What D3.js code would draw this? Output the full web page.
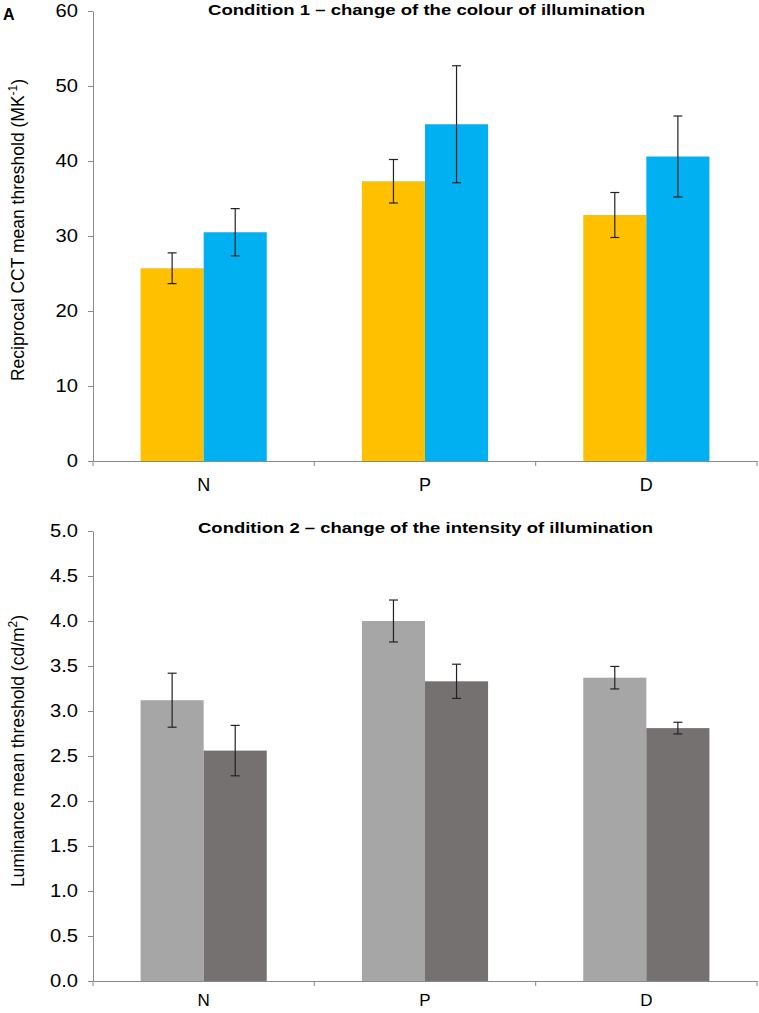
<!DOCTYPE html>
<html><head><meta charset="utf-8">
<script src="https://cdn.jsdelivr.net/npm/d3@7"></script>
<style>body{margin:0;background:#fff}svg{display:block;font-family:"Liberation Sans",Arial,sans-serif}</style>
</head><body>
<svg id="c" width="759" height="1013"></svg>
<script>
const categories = ["N","P","D"];
const cond1Values = [[25.7,30.5],[37.3,44.9],[32.8,40.6]];
const cond1Errors = [[2.05,3.15],[2.9,7.8],[3.0,5.4]];
const cond1Colors = ["#FFC000","#00B0F0"];
const cond1Ticks = [0,10,20,30,40,50,60];

const cond2Values = [[3.12,2.56],[4.0,3.33],[3.37,2.81]];
const cond2Errors = [[0.30,0.28],[0.233,0.19],[0.125,0.065]];
const cond2Colors = ["#A6A6A6","#767171"];
const cond2Ticks = [0,0.5,1,1.5,2,2.5,3,3.5,4,4.5,5];

const svg = d3.select("#c");
const axisColor = "#898989";
const left = 93, right = 757;
const FONT = "Liberation Sans, Arial, sans-serif";

const x = d3.scaleBand().domain(categories).range([left,right]).padding(0);
const bw = x.bandwidth();
const x1 = d3.scaleBand().domain([0,1]).range([bw*0.215, bw*0.785]).padding(0);

function panel(opts){
  const {top,bottom,domain,ticks,fmt,values,errors,colors,title,titleY,titleX,titleLen,ylabel,labelY,xPad,xFont} = opts;
  const y = d3.scaleLinear().domain(domain).range([bottom,top]);
  const g = svg.append("g");
  categories.forEach((c,i)=>{
    values[i].forEach((v,j)=>{
      const bx = x(c)+x1(j);
      g.append("rect").attr("x",bx).attr("width",x1.bandwidth())
        .attr("y",y(v)).attr("height",y(0)-y(v)).attr("fill",colors[j]);
      const cx = bx + x1.bandwidth()/2;
      const e = errors[i][j];
      const eg = g.append("g").attr("stroke","#222").attr("stroke-width",1.2);
      eg.append("line").attr("x1",cx).attr("x2",cx).attr("y1",y(v+e)).attr("y2",y(v-e));
      eg.append("line").attr("x1",cx-4.5).attr("x2",cx+4.5).attr("y1",y(v+e)).attr("y2",y(v+e));
      eg.append("line").attr("x1",cx-4.5).attr("x2",cx+4.5).attr("y1",y(v-e)).attr("y2",y(v-e));
    });
  });
  const ya = g.append("g").attr("transform",`translate(${left},0)`)
    .call(d3.axisLeft(y).tickValues(ticks).tickFormat(fmt).tickSize(5).tickPadding(10).tickSizeOuter(0));
  ya.selectAll("path,line").attr("stroke",axisColor);
  ya.selectAll("text").attr("font-size",18).attr("fill","#000").attr("font-family",FONT)
    .attr("textLength",function(){return this.getComputedTextLength()*1.12;}).attr("lengthAdjust","spacingAndGlyphs");
  const xa = g.append("g").attr("transform",`translate(0,${bottom})`)
    .call(d3.axisBottom(x).tickSize(0).tickPadding(xPad).tickSizeOuter(0));
  xa.select("path").attr("stroke",axisColor);
  xa.selectAll("text").attr("font-size",xFont).attr("fill","#000").attr("font-family",FONT).attr("dy","0.72em");
  const bounds = categories.map(c=>x(c)).concat([x(categories[categories.length-1])+bw]);
  g.selectAll(".bt").data(bounds).enter().append("line")
    .attr("x1",d=>d).attr("x2",d=>d).attr("y1",bottom).attr("y2",bottom+5).attr("stroke",axisColor);
  g.append("text").attr("x",titleX).attr("y",titleY).attr("text-anchor","middle")
    .attr("font-weight","bold").attr("font-size",15.5)
    .attr("textLength",titleLen).attr("lengthAdjust","spacingAndGlyphs").text(title);
  const yl = g.append("text").attr("transform",`translate(24,${labelY}) rotate(-90)`)
    .attr("text-anchor","middle").attr("font-size",17.5);
  ylabel(yl);
}

svg.append("text").attr("x",3).attr("y",20).attr("font-weight","bold").attr("font-size",16).text("A");

panel({top:11,bottom:461,domain:[0,60],ticks:cond1Ticks,fmt:d3.format("d"),
  values:cond1Values,errors:cond1Errors,colors:cond1Colors,xPad:17,xFont:18,
  title:"Condition 1 – change of the colour of illumination",titleY:15,titleX:426.5,titleLen:437,labelY:230,
  ylabel:t=>{t.append("tspan").text("Reciprocal CCT mean threshold (MK");
    t.append("tspan").attr("font-size",12).attr("dy",-7).text("-1");
    t.append("tspan").attr("dy",7).text(")");}});

panel({top:531,bottom:981,domain:[0,5],ticks:cond2Ticks,fmt:d3.format(".1f"),
  values:cond2Values,errors:cond2Errors,colors:cond2Colors,xPad:13,xFont:17,
  title:"Condition 2 – change of the intensity of illumination",titleY:533,titleX:425.5,titleLen:455,labelY:751,
  ylabel:t=>{t.append("tspan").text("Luminance mean threshold (cd/m");
    t.append("tspan").attr("font-size",12).attr("dy",-7).text("2");
    t.append("tspan").attr("dy",7).text(")");}});
</script>
</body></html>
